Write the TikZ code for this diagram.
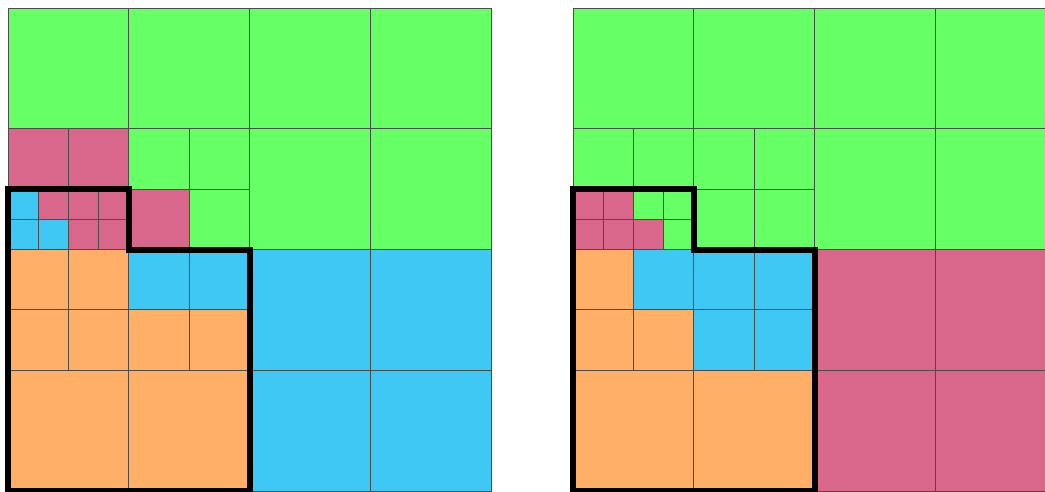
\documentclass[tikz,border=0pt]{standalone}
\definecolor{gcol}{HTML}{66FF66}
\definecolor{pcol}{HTML}{D9678C}
\definecolor{bcol}{HTML}{40C8F4}
\definecolor{ocol}{HTML}{FFB066}
\tikzset{
  cell/.style={draw=black!70, line width=0.9pt},
  outline/.style={draw=black, line width=6pt, line join=miter},
}
\newcommand{\cells}[1]{%
  \foreach \x/\y/\s/\c in {#1} {\filldraw[cell, fill=\c] (\x,\y) rectangle ++(\s,\s);}%
}
\begin{document}
\begin{tikzpicture}[x=120.75pt, y=120.75pt]
\useasboundingbox (-0.06625,0) rectangle (8.588,4.06625);
\clip (-0.06625,0) rectangle (8.588,4.06625);
% left grid
\begin{scope}
\cells{0/3/1/gcol,1/3/1/gcol,2/3/1/gcol,3/3/1/gcol,2/2/1/gcol,3/2/1/gcol,2/1/1/bcol,3/1/1/bcol,0/0/1/ocol,1/0/1/ocol,2/0/1/bcol,3/0/1/bcol}
\cells{0/2.5/0.5/pcol,0.5/2.5/0.5/pcol,1/2.5/0.5/gcol,1.5/2.5/0.5/gcol,1/2/0.5/pcol,1.5/2/0.5/gcol,0/1.5/0.5/ocol,0.5/1.5/0.5/ocol,0/1/0.5/ocol,0.5/1/0.5/ocol,1/1.5/0.5/bcol,1.5/1.5/0.5/bcol,1/1/0.5/ocol,1.5/1/0.5/ocol}
\cells{0/2.25/0.25/bcol,0.25/2.25/0.25/pcol,0/2/0.25/bcol,0.25/2/0.25/bcol,0.5/2.25/0.25/pcol,0.75/2.25/0.25/pcol,0.5/2/0.25/pcol,0.75/2/0.25/pcol}
\draw[outline] (0,0) -- (0,2.5) -- (1,2.5) -- (1,2) -- (2,2) -- (2,0) -- cycle;
\end{scope}
% right grid
\begin{scope}[shift={(4.6791,0)}]
\cells{0/3/1/gcol,1/3/1/gcol,2/3/1/gcol,3/3/1/gcol,2/2/1/gcol,3/2/1/gcol,2/1/1/pcol,3/1/1/pcol,0/0/1/ocol,1/0/1/ocol,2/0/1/pcol,3/0/1/pcol}
\cells{0/2.5/0.5/gcol,0.5/2.5/0.5/gcol,1/2.5/0.5/gcol,1.5/2.5/0.5/gcol,1/2/0.5/gcol,1.5/2/0.5/gcol,0/1.5/0.5/ocol,0.5/1.5/0.5/bcol,0/1/0.5/ocol,0.5/1/0.5/ocol,1/1.5/0.5/bcol,1.5/1.5/0.5/bcol,1/1/0.5/bcol,1.5/1/0.5/bcol}
\cells{0/2.25/0.25/pcol,0.25/2.25/0.25/pcol,0/2/0.25/pcol,0.25/2/0.25/pcol,0.5/2.25/0.25/gcol,0.75/2.25/0.25/gcol,0.5/2/0.25/pcol,0.75/2/0.25/gcol}
\draw[outline] (0,0) -- (0,2.5) -- (1,2.5) -- (1,2) -- (2,2) -- (2,0) -- cycle;
\end{scope}
\end{tikzpicture}
\end{document}
